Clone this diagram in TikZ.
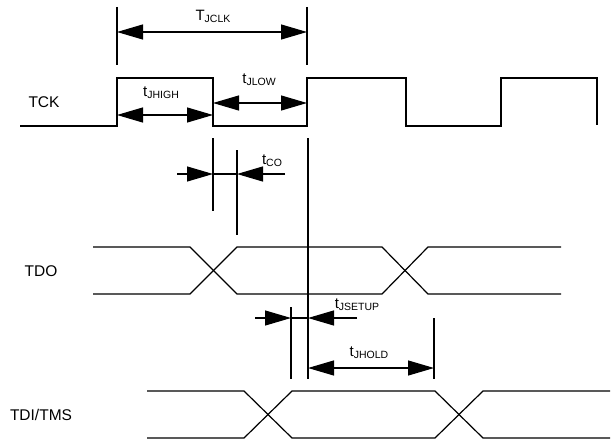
\documentclass[tikz,border=0pt]{standalone}
\usepackage{fontspec}
\setmainfont{Liberation Sans}
\usetikzlibrary{arrows.meta}
\newcommand{\sigsub}[2]{#1{\fontsize{10.5}{11}\selectfont\raisebox{-2pt}{#2}}}
\begin{document}
\begin{tikzpicture}[x=1pt,y=-1pt,line width=1.2pt,
  wave/.style={line join=miter},
  tipstyle/.tip={Triangle[length=26pt,width=15pt]},
  dimboth/.style={tipstyle-tipstyle},
  dimone/.style={-tipstyle},
  lbl/.style={font=\fontsize{15.5}{18}\selectfont,inner sep=0pt},
  tlbl/.style={font=\fontsize{15}{17}\selectfont,inner sep=0pt}]
\useasboundingbox (0,0) rectangle (612,444);

% signal names
\node[lbl] (tck) at (44,102) {TCK};
\node[lbl] (tdo) at (41,271) {TDO};
\node[lbl] (tdi) at (41,415) {TDI/TMS};

% TCK waveform
\draw[wave] (20,126) -- (117,126) -- (117,78) -- (213,78) -- (213,126) -- (307,126)
  -- (307,78) -- (406,78) -- (406,126) -- (501,126) -- (501,78) -- (597,78) -- (597,125);

% TDO waveform
\draw[wave] (93,247) -- (190,247) -- (237,294) -- (382,294) -- (428,247) -- (561,247);
\draw[wave] (93,294) -- (190,294) -- (237,247) -- (382,247) -- (428,294) -- (561,294);

% TDI/TMS waveform
\draw[wave] (147,391) -- (244,391) -- (292,438) -- (435,438) -- (483,391) -- (610,391);
\draw[wave] (147,438) -- (244,438) -- (292,391) -- (435,391) -- (483,438) -- (610,438);

% TJCLK
\coordinate (c1a) at (117,7);  \coordinate (c1b) at (117,65);
\coordinate (c2a) at (307,7);  \coordinate (c2b) at (307,65);
\draw (c1a) -- (c1b);
\draw (c2a) -- (c2b);
\coordinate (jclkL) at (117,32); \coordinate (jclkR) at (307,32);
\draw[dimboth] (jclkL) -- (jclkR);
\node[tlbl] (ljclk) at (213,16) {\sigsub{T}{JCLK}};

% tJHIGH, tJLOW
\coordinate (hiL) at (117,115); \coordinate (hiR) at (213,115);
\draw[dimboth] (hiL) -- (hiR);
\node[tlbl] (ljhigh) at (161,93) {\sigsub{t}{JHIGH}};
\coordinate (loL) at (213,103); \coordinate (loR) at (307,103);
\draw[dimboth] (loL) -- (loR);
\node[tlbl] (ljlow) at (259,80) {\sigsub{t}{JLOW}};

% reference lines
\coordinate (v1a) at (213,138); \coordinate (v1b) at (213,211);
\coordinate (v2a) at (237,150); \coordinate (v2b) at (237,235);
\coordinate (v3a) at (308,138); \coordinate (v3b) at (308,379);
\draw (v1a) -- (v1b);
\draw (v2a) -- (v2b);
\draw (v3a) -- (v3b);

% tCO
\coordinate (coA) at (177,174); \coordinate (coB) at (213,174);
\coordinate (coC) at (237,174); \coordinate (coD) at (285,174);
\draw[dimone] (coA) -- (coB);
\draw (coB) -- (coC);
\draw[dimone] (coD) -- (coC);
\node[tlbl] (lco) at (272,161) {\sigsub{t}{CO}};

% tJSETUP
\coordinate (v4a) at (291,307); \coordinate (v4b) at (291,379);
\draw (v4a) -- (v4b);
\coordinate (suA) at (255,318); \coordinate (suB) at (291,318);
\coordinate (suC) at (308,318); \coordinate (suD) at (357,318);
\draw[dimone] (suA) -- (suB);
\draw (suB) -- (suC);
\draw[dimone] (suD) -- (suC);
\node[tlbl] (lsetup) at (357,305) {\sigsub{t}{JSETUP}};

% tJHOLD
\coordinate (v5a) at (434,318); \coordinate (v5b) at (434,379);
\draw (v5a) -- (v5b);
\coordinate (hoL) at (308,368); \coordinate (hoR) at (434,368);
\draw[dimboth] (hoL) -- (hoR);
\node[tlbl] (lhold) at (369,353) {\sigsub{t}{JHOLD}};
\end{tikzpicture}
\end{document}
